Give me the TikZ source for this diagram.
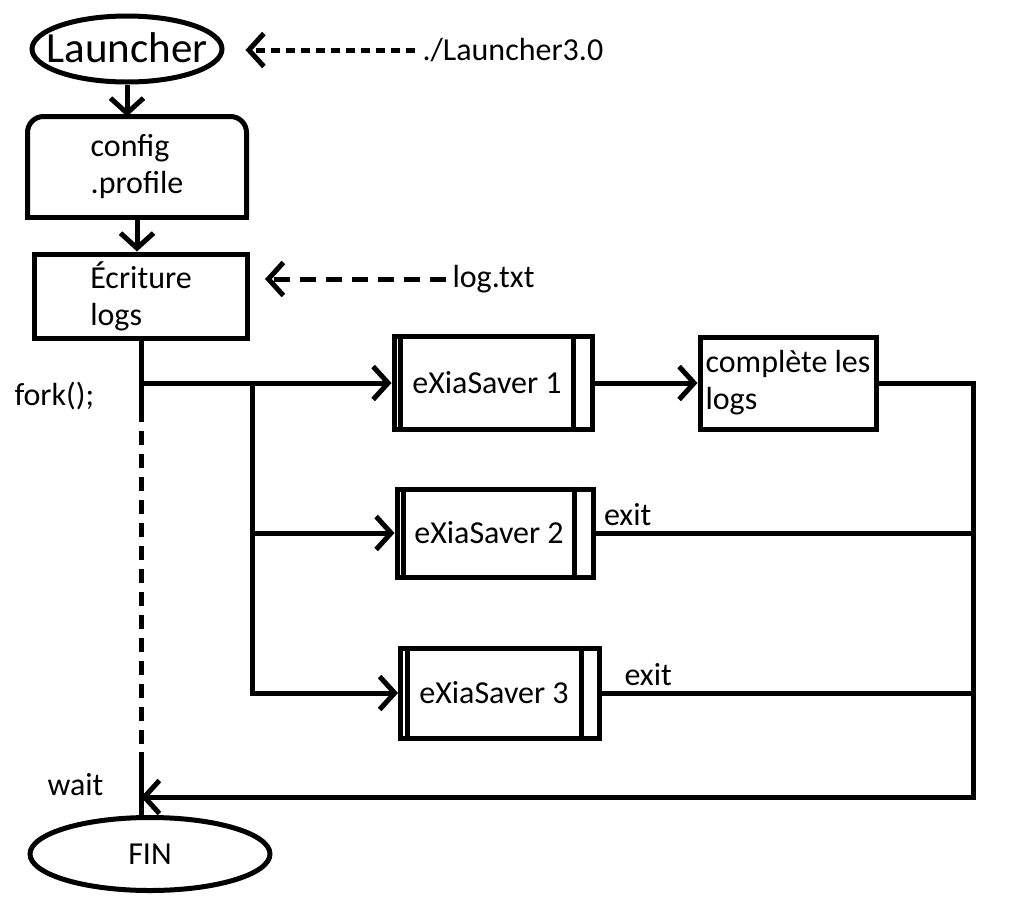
\documentclass[tikz,border=0pt]{standalone}
\usepackage{fontspec}
\setmainfont{Carlito}
\usetikzlibrary{arrows.meta,shapes.geometric}

% texte de taille nulle, pour que l'ellipse garde sa taille
\newcommand{\zerobox}[1]{\raisebox{-0.32em}[0pt][0pt]{\makebox[0pt]{#1}}}

\tikzset{
  arr/.style={-{Straight Barb[length=15pt,width=33pt]}},
  box/.style={draw, rectangle, inner sep=1pt, align=left},
  term/.style={draw, ellipse, inner sep=0pt},
  lbl/.style={inner sep=0pt},
}

\begin{document}
\begin{tikzpicture}[x=1pt, y=-1pt, line width=5pt,
    every node/.style={font=\fontsize{32}{37}\selectfont}]
    \useasboundingbox (0,0) rectangle (1036,916);

    % --- noeuds principaux ---
    \node[term, minimum width=190pt, minimum height=66pt,
          font=\fontsize{43}{50}\selectfont] (lch) at (127,49) {\zerobox{Launcher}};
    \node[lbl, anchor=west] (exe) at (420,50) {./Launcher3.0};

    \node[box, draw=none, minimum width=214pt, minimum height=96pt] (cfg) at (137,167) {config\\.profile};
    \draw[rounded corners=16pt] (cfg.south west) -- (cfg.north west) -- (cfg.north east) -- (cfg.south east);
    \draw[line cap=rect] (cfg.south west) -- (cfg.south east);

    \node[box, minimum width=213pt, minimum height=84pt] (ecr) at (141,296) {Écriture\\logs};
    \node[lbl, anchor=west] (logt) at (450,279) {log.txt};

    % --- processus fils ---
    \node[box, minimum width=198pt, minimum height=93pt] (sav1) at (493,383) {eXiaSaver 1\hspace*{12pt}};
    \node[box, minimum width=196pt, minimum height=88pt] (sav2) at (495,533) {eXiaSaver 2\hspace*{12pt}};
    \node[box, minimum width=199pt, minimum height=90pt] (sav3) at (500,693) {eXiaSaver 3\hspace*{12pt}};
    \foreach \s in {sav1,sav2,sav3}{
        \draw ([xshift=9pt]\s.north west) -- ([xshift=9pt]\s.south west);
        \draw ([xshift=-21pt]\s.north east) -- ([xshift=-21pt]\s.south east);
    }
    \node[box, minimum width=176pt, minimum height=92pt] (cpl) at (788,383) {complète les\\logs};

    \node[term, minimum width=240pt, minimum height=73pt] (fin) at (150,854) {\zerobox{FIN}};

    % --- etiquettes ---
    \node[lbl, anchor=west] (forkl) at (12,396) {fork();};
    \node[lbl, anchor=west] (waitl) at (45,785) {wait};

    % --- points de passage ---
    \coordinate (fork) at (141,383);
    \coordinate (branch) at (252,383);
    \coordinate (dashA) at (141,408);
    \coordinate (dashB) at (141,752);
    \coordinate (join) at (141,797);
    \coordinate (rail) at (973,797);

    % --- fleches ---
    \draw[arr] (lch.south) -- (lch.south |- cfg.north);
    \draw[arr] (cfg.south) -- (cfg.south |- ecr.north);
    \draw[arr, dash pattern=on 9pt off 6pt, shorten <=5pt, shorten >=21pt] (exe.west) -- (exe.west -| lch.east);
    \draw[arr, dash pattern=on 16pt off 10pt, shorten <=4pt, shorten >=15pt] (logt.west) -- (logt.west -| ecr.east);

    \draw (ecr.south) -- (dashA);
    \draw[dash pattern=on 14pt off 9pt] (dashA) -- (dashB);
    \draw (dashB) -- (dashB |- fin.north);

    \draw[arr] (fork) -- (sav1.west);
    \draw[arr] (branch |- sav2.west) -- (sav2.west);
    \draw[arr] (branch) |- (sav3.west);
    \draw[arr] (sav1.east) -- (cpl.west);

    \draw[arr] (cpl.east) -| (rail) -- (join);
    \draw (sav2.east) -- (sav2.east -| rail);
    \draw (sav3.east) -- (sav3.east -| rail);
    \node[lbl, anchor=south west] (exit2) at ([xshift=6pt, yshift=5pt]sav2.east) {exit};
    \node[lbl, anchor=south west] (exit3) at ([xshift=20pt, yshift=5pt]sav3.east) {exit};

\end{tikzpicture}
\end{document}
